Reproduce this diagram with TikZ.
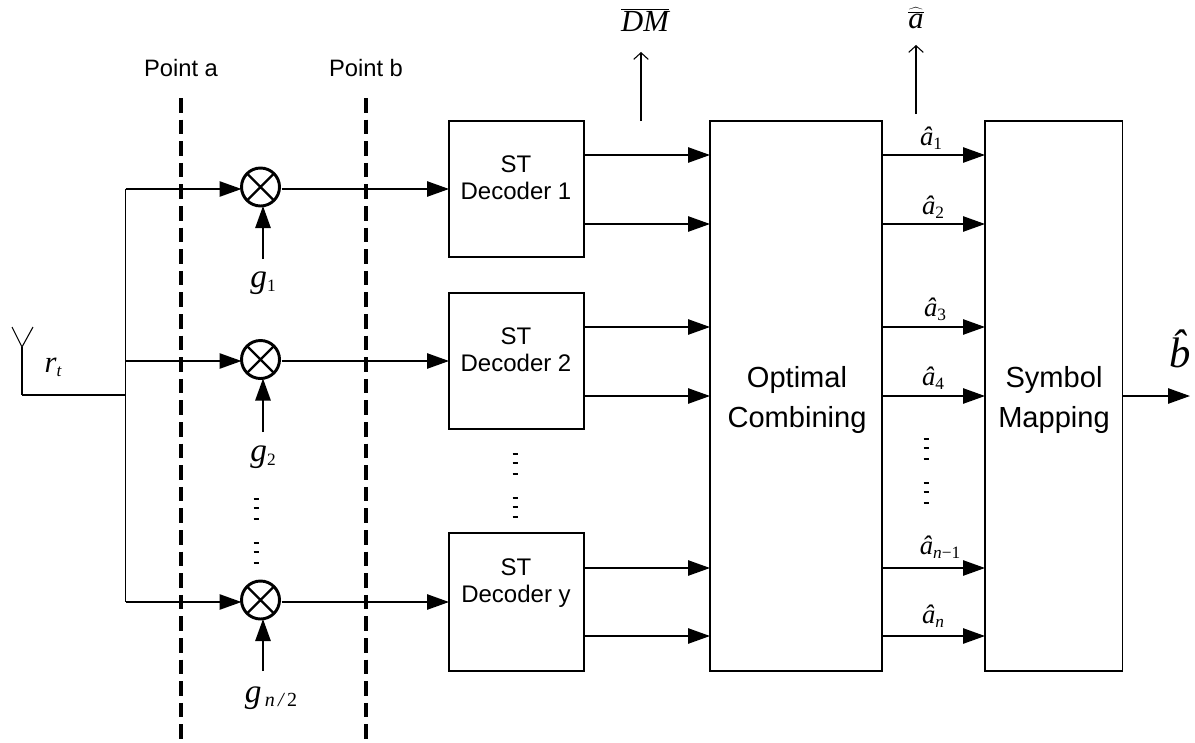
\documentclass[tikz,border=0pt]{standalone}
\usepackage{fontspec}
\setmainfont{Liberation Sans}
\newfontfamily\tms{Liberation Serif}
\usetikzlibrary{arrows.meta}
\newcommand{\sbx}[1]{\raisebox{-0.32em}{\fontsize{13pt}{13pt}\selectfont\tms #1}}
\newcommand{\hata}[1]{{\fontsize{20pt}{20pt}\selectfont\tms\itshape â}\sbx{#1}}
\newcommand{\gsym}[1]{{\fontsize{25pt}{25pt}\selectfont\tms\itshape g}\sbx{#1}}
\tikzset{
  x=0.75pt,y=-0.75pt,
  wire/.style={line width=1.2pt},
  thinwire/.style={line width=0.8pt},
  arr/.style={wire,-{Triangle[length=16.5pt,width=11.5pt]}},
  oarr/.style={thinwire,-{Straight Barb[length=5pt,width=11pt]}},
  dashline/.style={line width=2.3pt,dash pattern=on 11pt off 5.2pt},
  blk/.style={draw,line width=1.2pt,inner sep=0pt,outer sep=0pt,anchor=north west},
  mixer/.style={circle,draw,line width=2.2pt,minimum size=28.5pt,inner sep=0pt,outer sep=0pt,
    path picture={\draw[line width=1.8pt,shorten >=6pt,shorten <=6pt]
      (path picture bounding box.45)--(path picture bounding box.225)
      (path picture bounding box.135)--(path picture bounding box.315);}},
  lab/.style={inner sep=0pt,font=\fontsize{17.8pt}{17.8pt}\selectfont},
  biglab/.style={inner sep=0pt,align=center,font=\fontsize{21.8pt}{29.3pt}\selectfont},
  declab/.style={inner sep=0pt,align=center,font=\fontsize{18pt}{20pt}\selectfont},
  sym/.style={inner sep=0pt},
  dotmark/.style={line width=1.5pt}
}
\begin{document}
\begin{tikzpicture}
\useasboundingbox (0,0) rectangle (1195,742);
% blocks
\node[blk,minimum width=101.25pt,minimum height=102pt] (d1) at (449,121) {};
\node[blk,minimum width=101.25pt,minimum height=102pt] (d2) at (449,293) {};
\node[blk,minimum width=101.25pt,minimum height=103.5pt] (d3) at (449,533) {};
\node[blk,minimum width=129pt,minimum height=412.5pt] (oc) at (710,121) {};
\node[blk,minimum width=103pt,minimum height=412.5pt] (sm) at (985,121) {};
\node[declab] (t1) at (516,178) {ST\\Decoder 1};
\node[declab] (t2) at (516,350) {ST\\Decoder 2};
\node[declab] (t3) at (516,583) {ST\\Decoder y};
\node[biglab] (t4) at (797,400) {Optimal\\Combining};
\node[biglab] (t5) at (1054,400) {Symbol\\Mapping};
% mixers
\node[mixer] (c1) at (260.5,187) {};
\node[mixer] (c2) at (260.5,359.5) {};
\node[mixer] (c3) at (260.5,600) {};
% reference coordinates
\coordinate (ant) at (22,395);
\coordinate (antt) at (22,347);
\coordinate (antl) at (12,327);
\coordinate (antr) at (33,327);
\coordinate (bus) at (125.5,395);
\coordinate (y1) at (0,189);
\coordinate (y2) at (0,361);
\coordinate (y3) at (0,602);
\coordinate (s1) at (263,259);
\coordinate (s2) at (263,432);
\coordinate (s3) at (263,671);
% dashed lines
\coordinate (pa) at (181,98);
\coordinate (pae) at (181,742);
\coordinate (pb) at (366,98);
\coordinate (pbe) at (366,742);
\draw[dashline] (pa)--(pae);
\draw[dashline] (pb)--(pbe);
\node[lab] (pat) at (181,68) {Point a};
\node[lab] (pbt) at (366,68) {Point b};
% antenna
\draw[thinwire] (antl)--(antt)--(antr);
\draw[thinwire] (antt)--(ant);
\draw[wire] (ant)--(bus);
\node[sym] (rt) at (53,367) {{\fontsize{23pt}{23pt}\selectfont\tms\itshape r}\sbx{\itshape t}};
% input bus
\draw[wire] (bus |- y1)--(bus |- y3);
\draw[arr] (bus |- y1)--(c1.west |- y1);
\draw[arr] (bus |- y2)--(c2.west |- y2);
\draw[arr] (bus |- y3)--(c3.west |- y3);
\draw[arr,shorten <=1.5pt] (c1.east |- y1)--(d1.west |- y1);
\draw[arr,shorten <=1.5pt] (c2.east |- y2)--(d2.west |- y2);
\draw[arr,shorten <=1.5pt] (c3.east |- y3)--(d3.west |- y3);
% gains
\draw[arr] (s1)--(s1 |- c1.south);
\draw[arr] (s2)--(s2 |- c2.south);
\draw[arr] (s3)--(s3 |- c3.south);
\node[sym] (g1) at (263,283) {\gsym{1}};
\node[sym] (g2) at (263,457) {\gsym{2}};
\node[sym] (g3) at (271,698) {{\fontsize{25pt}{25pt}\selectfont\tms\itshape g}\raisebox{-0.32em}{\fontsize{15pt}{15pt}\selectfont\tms\itshape\,n\,/\,\upshape 2}};
% decoder -> combining
\coordinate (a1) at (0,155);
\coordinate (a2) at (0,224);
\coordinate (a3) at (0,327);
\coordinate (a4) at (0,396);
\coordinate (a5) at (0,568);
\coordinate (a6) at (0,636);
\draw[arr] (d1.east |- a1)--(oc.west |- a1);
\draw[arr] (d1.east |- a2)--(oc.west |- a2);
\draw[arr] (d2.east |- a3)--(oc.west |- a3);
\draw[arr] (d2.east |- a4)--(oc.west |- a4);
\draw[arr] (d3.east |- a5)--(oc.west |- a5);
\draw[arr] (d3.east |- a6)--(oc.west |- a6);
% combining -> mapping
\draw[arr] (oc.east |- a1)--(sm.west |- a1);
\draw[arr] (oc.east |- a2)--(sm.west |- a2);
\draw[arr] (oc.east |- a3)--(sm.west |- a3);
\draw[arr] (oc.east |- a4)--(sm.west |- a4);
\draw[arr] (oc.east |- a5)--(sm.west |- a5);
\draw[arr] (oc.east |- a6)--(sm.west |- a6);
\node[sym] (h1) at (931,138) {\hata{1}};
\node[sym] (h2) at (933,207) {\hata{2}};
\node[sym] (h3) at (935,309) {\hata{3}};
\node[sym] (h4) at (933,378) {\hata{4}};
\node[sym] (h5) at (940,547) {{\fontsize{20pt}{20pt}\selectfont\tms\itshape â}\raisebox{-0.32em}{\fontsize{13pt}{13pt}\selectfont\tms\itshape n\upshape−1}};
\node[sym] (h6) at (933,616) {{\fontsize{20pt}{20pt}\selectfont\tms\itshape â}\sbx{\itshape n}};
% outputs
\coordinate (oe) at (1190,396);
\draw[arr] (sm.east |- oe)--(oe);
\node[sym] (bh) at (1180,349) {{\fontsize{32pt}{32pt}\selectfont\tms\itshape\^b}};
% upward probes
\coordinate (u1) at (641,121);
\coordinate (u1t) at (641,52);
\coordinate (u2) at (916,114);
\coordinate (u2t) at (916,45);
\draw[oarr] (u1)--(u1t);
\draw[oarr] (u2)--(u2t);
\node[sym] (dm) at (645,20) {$\overline{\hbox{\fontsize{23pt}{23pt}\selectfont\tms\itshape DM}}$};
\node[sym] (ah) at (916,18) {$\widehat{\overline{\hbox{\fontsize{23pt}{23pt}\selectfont\tms\itshape a}}}$};
% ellipses
\foreach \x/\ys in {256/{499,508,519,543,552,563},515/{454,463,474,498,507,517},926/{439,448,459,483,492,503}}{
  \foreach \y in \ys {\draw[dotmark] (\x-2.5,\y)--(\x+2.5,\y);}
}
\end{tikzpicture}
\end{document}
